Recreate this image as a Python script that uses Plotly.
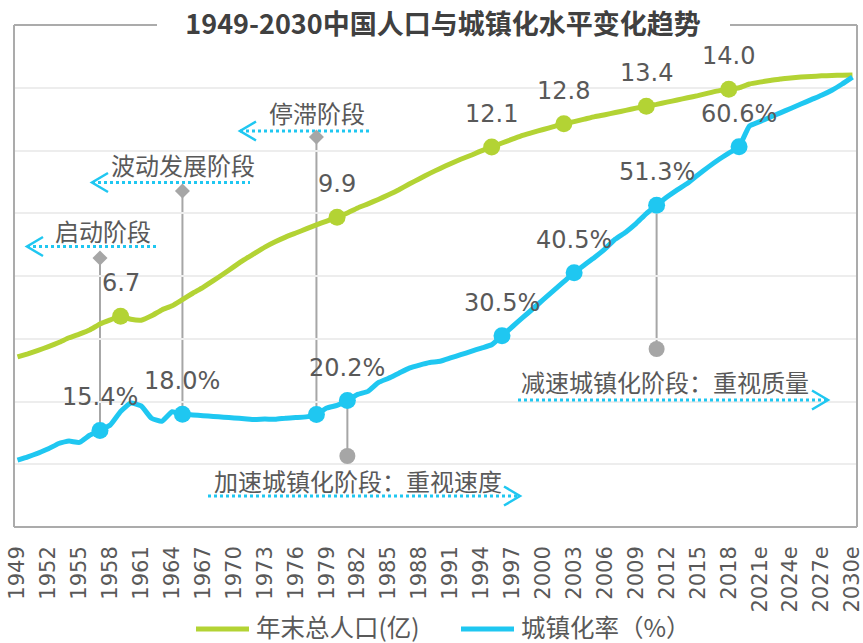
import plotly.graph_objects as go

# ---------------- data ----------------
years = list(range(1949, 2031))
tick_years = [1949, 1952, 1955, 1958, 1961, 1964, 1967, 1970, 1973, 1976, 1979, 1982, 1985,
              1988, 1991, 1994, 1997, 2000, 2003, 2006, 2009, 2012, 2015, 2018, 2021, 2024,
              2027, 2030]
tick_labels = ["1949", "1952", "1955", "1958", "1961", "1964", "1967", "1970", "1973", "1976",
               "1979", "1982", "1985", "1988", "1991", "1994", "1997", "2000", "2003", "2006",
               "2009", "2012", "2015", "2018", "2021e", "2024e", "2027e", "2030e"]

# 年末总人口(亿)
population = [5.42, 5.52, 5.63, 5.75, 5.88, 6.03, 6.15, 6.28, 6.47, 6.60,
              6.72, 6.62, 6.59, 6.73, 6.92, 7.05, 7.25, 7.45, 7.64, 7.85,
              8.07, 8.30, 8.52, 8.72, 8.92, 9.09, 9.24, 9.37, 9.50, 9.63,
              9.75, 9.87, 10.01, 10.17, 10.30, 10.44, 10.59, 10.75, 10.93, 11.10,
              11.27, 11.43, 11.58, 11.72, 11.85, 11.99, 12.11, 12.24, 12.36, 12.48,
              12.58, 12.67, 12.76, 12.85, 12.92, 13.00, 13.08, 13.14, 13.21, 13.28,
              13.35, 13.41, 13.47, 13.54, 13.61, 13.68, 13.75, 13.83, 13.90, 13.95,
              14.00, 14.12, 14.18, 14.23, 14.28, 14.31, 14.34, 14.36, 14.38, 14.39,
              14.40, 14.41]

# 城镇化率(%)
urbanization = [10.64, 11.18, 11.78, 12.46, 13.31, 13.69, 13.48, 14.62, 15.39, 16.25,
                18.41, 19.75, 19.29, 17.33, 16.84, 18.37, 17.98, 17.86, 17.74, 17.62,
                17.50, 17.38, 17.26, 17.13, 17.20, 17.16, 17.34, 17.44, 17.55, 17.92,
                18.96, 19.39, 20.16, 21.13, 21.62, 23.01, 23.71, 24.52, 25.32, 25.81,
                26.21, 26.41, 26.94, 27.46, 27.99, 28.51, 29.04, 30.48, 31.91, 33.35,
                34.78, 36.22, 37.66, 39.09, 40.53, 41.76, 42.99, 44.34, 45.89, 46.99,
                48.34, 49.95, 51.27, 52.57, 53.73, 54.77, 56.10, 57.35, 58.52, 59.58,
                60.60, 63.89, 64.60, 65.30, 66.00, 66.70, 67.40, 68.10, 68.80, 69.60,
                70.60, 71.70]

pop_mark_years = [1959, 1980, 1995, 2002, 2010, 2018]
pop_mark_labels = ["6.7", "9.9", "12.1", "12.8", "13.4", "14.0"]
urb_mark_years = [1957, 1965, 1978, 1981, 1996, 2003, 2011, 2019]
urb_mark_labels = ["15.4%", "18.0%", "", "20.2%", "30.5%", "40.5%", "51.3%", "60.6%"]

series_names = ["年末总人口(亿)", "城镇化率（%）"]
stage_texts = ["启动阶段", "波动发展阶段", "停滞阶段", "加速城镇化阶段：重视速度", "减速城镇化阶段：重视质量"]
stage_years = [1957, 1965, 1978, 1981, 2011]

# ---------------- style / layout helpers ----------------
GREEN = "#B3D334"
BLUE = "#1FC7F1"
GRAY = "#A6A6A6"
TXT = "#595959"
CJK = "Noto Sans CJK SC"
NUM = "DejaVu Sans"

W, H = 863, 643
# plot area in page pixels
L, R, T, B = 14, 857, 25, 527
PW, PH = R - L, B - T
X0, X1 = 1948.66, 2030.44


def xp(px):
    return (px - L) / PW


def yp(py):
    return (B - py) / PH


def y2_from_px(py):
    return (B - py) / PH * 80


pop_mark_vals = [population[years.index(y)] for y in pop_mark_years]
urb_mark_vals = [urbanization[years.index(y)] for y in urb_mark_years]

fig = go.Figure()
fig.add_trace(go.Scatter(x=years, y=population, mode="lines", name=series_names[0],
                         line=dict(color=GREEN, width=5, shape="spline", smoothing=0.4),
                         yaxis="y", showlegend=False))
fig.add_trace(go.Scatter(x=years, y=urbanization, mode="lines", name=series_names[1],
                         line=dict(color=BLUE, width=5, shape="spline", smoothing=0.4),
                         yaxis="y2", showlegend=False))
fig.add_trace(go.Scatter(x=pop_mark_years, y=pop_mark_vals, mode="markers", showlegend=False,
                         marker=dict(color=GREEN, size=17), yaxis="y"))
fig.add_trace(go.Scatter(x=urb_mark_years, y=urb_mark_vals, mode="markers", showlegend=False,
                         marker=dict(color=BLUE, size=17), yaxis="y2"))

annotations = []
for yr, v, lab in zip(pop_mark_years, pop_mark_vals, pop_mark_labels):
    annotations.append(dict(x=yr, y=v, xref="x", yref="y", text=lab, showarrow=False,
                            yshift=33, font=dict(family=NUM, size=24, color=TXT)))
for yr, v, lab in zip(urb_mark_years, urb_mark_vals, urb_mark_labels):
    if lab:
        annotations.append(dict(x=yr, y=v, xref="x", yref="y2", text=lab, showarrow=False,
                                yshift=33, font=dict(family=NUM, size=24, color=TXT)))

# stage annotation geometry (page pixel positions)
stage_geo = [
    dict(tc=(103, 231), ly=246.5, lx=(27, 157), dir="left", my=258, mk="diamond"),
    dict(tc=(183, 164), ly=182.5, lx=(92, 250), dir="left", my=191, mk="diamond"),
    dict(tc=(317, 113), ly=131, lx=(240, 371), dir="left", my=137, mk="diamond"),
    dict(tc=(358, 480), ly=496, lx=(208, 520), dir="right", my=456, mk="circle"),
    dict(tc=(665, 381), ly=400, lx=(518, 828), dir="right", my=349, mk="circle"),
]

shapes = []
for txt, yr, g in zip(stage_texts, stage_years, stage_geo):
    v = urbanization[years.index(yr)]
    annotations.append(dict(x=xp(g["tc"][0]), y=yp(g["tc"][1]), xref="paper", yref="paper",
                            text=txt, showarrow=False, xanchor="center", yanchor="middle",
                            font=dict(family=CJK, size=24, color=TXT)))
    shapes.append(dict(type="line", xref="paper", yref="paper",
                       x0=xp(g["lx"][0]), x1=xp(g["lx"][1]), y0=yp(g["ly"]), y1=yp(g["ly"]),
                       line=dict(color=BLUE, width=3, dash="dot"), layer="above"))
    if g["dir"] == "left":
        tip = g["lx"][0]
        back = tip + 16
    else:
        tip = g["lx"][1]
        back = tip - 16
    path = "M {:.5f},{:.5f} L {:.5f},{:.5f} L {:.5f},{:.5f}".format(
        xp(back), yp(g["ly"] - 9.5), xp(tip), yp(g["ly"]), xp(back), yp(g["ly"] + 9.5))
    shapes.append(dict(type="path", xref="paper", yref="paper", path=path,
                       line=dict(color=BLUE, width=2.5), layer="above"))
    yc = y2_from_px(g["my"])
    shapes.append(dict(type="line", xref="x", yref="y2", x0=yr, x1=yr, y0=v, y1=yc,
                       line=dict(color=GRAY, width=2), layer="below"))
    if g["mk"] == "diamond":
        shapes.append(dict(type="path", xref="x", yref="y2", xsizemode="pixel",
                           ysizemode="pixel", xanchor=yr, yanchor=yc,
                           path="M 0,7.5 L 7.5,0 L 0,-7.5 L -7.5,0 Z",
                           fillcolor=GRAY, line=dict(color=GRAY, width=0), layer="above"))
    else:
        shapes.append(dict(type="circle", xref="x", yref="y2", xsizemode="pixel",
                           ysizemode="pixel", xanchor=yr, yanchor=yc,
                           x0=-8, x1=8, y0=-8, y1=8,
                           fillcolor=GRAY, line=dict(color=GRAY, width=0), layer="above"))

# frame (top border interrupted by title)
FRAME = "#ABABAB"
for (a, b, c, d) in [(0, 0, 0, 1), (0, 0, 1, 0), (1, 0, 1, 1),
                     (0, 1, xp(157), 1), (xp(730), 1, 1, 1)]:
    shapes.append(dict(type="line", xref="paper", yref="paper", x0=a, y0=b, x1=c, y1=d,
                       line=dict(color=FRAME, width=2), layer="above"))

# legend (drawn below the chart)
LEG_Y = 626
for name, col, (lx0, lx1) in zip(series_names, [GREEN, BLUE], [(196, 249), (461, 514)]):
    shapes.append(dict(type="line", xref="paper", yref="paper", x0=xp(lx0), x1=xp(lx1),
                       y0=yp(LEG_Y + 3), y1=yp(LEG_Y + 3), line=dict(color=col, width=5)))
    annotations.append(dict(x=xp(lx1 + 5), y=yp(LEG_Y), xref="paper", yref="paper", text=name,
                            showarrow=False, xanchor="left", yanchor="middle",
                            font=dict(family=CJK, size=24.5, color=TXT)))

fig.update_layout(
    width=W, height=H,
    margin=dict(l=L, r=W - R, t=T, b=H - B, pad=0, autoexpand=False),
    paper_bgcolor="white", plot_bgcolor="white",
    title=dict(text="<b>1949-2030中国人口与城镇化水平变化趋势</b>", xref="container",
               yref="container", x=443 / W, y=1 - 25 / H,
               xanchor="center", yanchor="middle",
               font=dict(family=CJK, size=27, color="#404040")),
    xaxis=dict(range=[X0, X1], tickmode="array", tickvals=tick_years, ticktext=tick_labels,
               tickangle=-90, tickfont=dict(family=NUM, size=21, color=TXT),
               showgrid=False, zeroline=False, showline=False, ticks="",
               ticklabelstandoff=14, automargin=False, ticklabeloverflow="allow"),
    yaxis=dict(range=[0, 16], dtick=2, showticklabels=False, showgrid=True,
               gridcolor="#EDEDED", gridwidth=1.5, zeroline=False, showline=False, ticks="",
               automargin=False),
    yaxis2=dict(range=[0, 80], overlaying="y", side="right", showticklabels=False,
                showgrid=False, zeroline=False, showline=False, ticks="", automargin=False),
    annotations=annotations,
    shapes=shapes,
    showlegend=False,
)

# remove the default 8px page margin so the figure fills the window exactly
fig.write_html("out.html",
               config={"displayModeBar": False},
               post_script="document.body.style.margin='0';document.body.style.overflow='hidden';")
